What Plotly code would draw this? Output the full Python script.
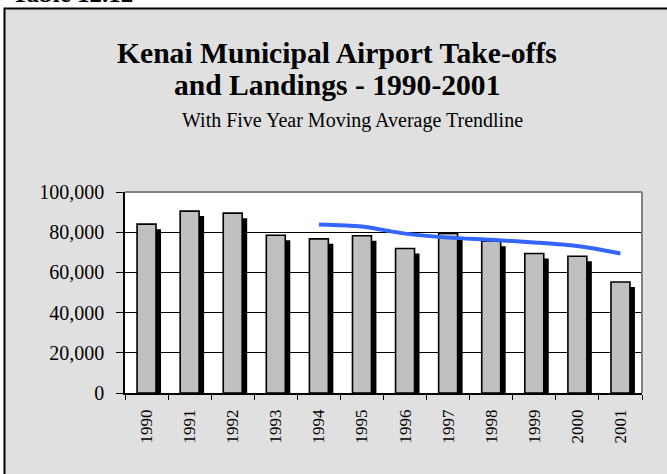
import plotly.graph_objects as go

years = ["1990", "1991", "1992", "1993", "1994", "1995", "1996", "1997", "1998", "1999", "2000", "2001"]
operations = [84000, 90500, 89500, 78500, 76700, 78200, 71900, 79400, 75500, 69400, 68000, 55200]
ma_years = ["1994", "1995", "1996", "1997", "1998", "1999", "2000", "2001"]
ma_values = [83800, 82800, 79300, 77300, 76200, 74900, 73100, 69400]
y_ticks = [0, 20000, 40000, 60000, 80000, 100000]
y_tick_labels = ["0", "20,000", "40,000", "60,000", "80,000", "100,000"]

W, H = 667, 474
PLOT_L, PLOT_R, PLOT_T, PLOT_B = 125, 642, 192, 393  # page pixels
L, T, R, B = PLOT_L, PLOT_T, W - PLOT_R, H - PLOT_B
PW, PH = PLOT_R - PLOT_L, PLOT_B - PLOT_T


def px(x):
    return (x - PLOT_L) / PW


def py(y):
    return (PLOT_B - y) / PH


SERIF = "Liberation Serif, Times New Roman, serif"
bar_w = 0.44
shadow_dx = 0.116

fig = go.Figure()
fig.add_trace(go.Bar(
    x=years, y=operations, base=-2500, width=bar_w, offset=-bar_w / 2 + shadow_dx,
    marker=dict(color="black", line=dict(width=0)), hoverinfo="skip", showlegend=False))
fig.add_trace(go.Bar(
    x=years, y=operations, width=bar_w, offset=-bar_w / 2,
    marker=dict(color="#C0C0C0", line=dict(color="black", width=1.6)), showlegend=False))
fig.add_trace(go.Scatter(
    x=ma_years, y=ma_values, mode="lines",
    line=dict(color="#3366FF", width=4, shape="spline", smoothing=0.8), showlegend=False))

shapes = [
    dict(type="rect", xref="paper", yref="paper", x0=px(4.5), x1=px(700), y0=py(500), y1=py(8.5),
         fillcolor="#E0E0E0", line=dict(color="black", width=2), layer="below"),
    dict(type="rect", xref="paper", yref="paper", x0=0, x1=1, y0=0, y1=1,
         fillcolor="white", line=dict(width=0), layer="below"),
    dict(type="line", xref="paper", yref="paper", x0=0, x1=1, y0=1, y1=1,
         line=dict(color="#808080", width=2), layer="above"),
    dict(type="line", xref="paper", yref="paper", x0=1, x1=1, y0=0, y1=1,
         line=dict(color="#808080", width=2), layer="above"),
]

annotations = [
    dict(text="Table 12.12", xref="paper", yref="paper", x=px(10), y=py(-6.5), xanchor="left",
         yanchor="middle", showarrow=False, font=dict(family=SERIF, size=25, color="black", weight="bold")),
    dict(text="<b>Kenai Municipal Airport Take-offs</b>", xref="paper", yref="paper", x=px(337), y=py(53),
         xanchor="center", yanchor="middle", showarrow=False, font=dict(family=SERIF, size=29.6, color="black")),
    dict(text="<b>and Landings - 1990-2001</b>", xref="paper", yref="paper", x=px(337), y=py(85),
         xanchor="center", yanchor="middle", showarrow=False, font=dict(family=SERIF, size=29.6, color="black")),
    dict(text="With Five Year Moving Average Trendline", xref="paper", yref="paper", x=px(352), y=py(120.5),
         xanchor="center", yanchor="middle", showarrow=False, font=dict(family=SERIF, size=20, color="black")),
]

fig.update_layout(
    width=W, height=H, margin=dict(l=L, r=R, t=T, b=B, pad=0, autoexpand=False),
    paper_bgcolor="white", plot_bgcolor="white", barmode="overlay",
    shapes=shapes, annotations=annotations, showlegend=False,
    xaxis=dict(type="category", categoryorder="array", categoryarray=years,
               showline=True, linecolor="black", linewidth=1.5, ticks="outside", tickson="boundaries",
               ticklen=5, tickcolor="black", tickwidth=1, tickangle=-90, showgrid=False,
               tickfont=dict(family=SERIF, size=17, color="black"), ticklabelstandoff=8),
    yaxis=dict(range=[0, 100000], tickvals=y_ticks, ticktext=y_tick_labels,
               showline=True, linecolor="black", linewidth=1.5, ticks="outside", ticklen=7,
               tickcolor="black", tickwidth=1, showgrid=True, gridcolor="black", gridwidth=1,
               zeroline=False, tickfont=dict(family=SERIF, size=20, color="black"), ticklabelstandoff=8),
)

fig.write_html("out.html", config={"displayModeBar": False},
               post_script="document.body.style.margin='0px';")
